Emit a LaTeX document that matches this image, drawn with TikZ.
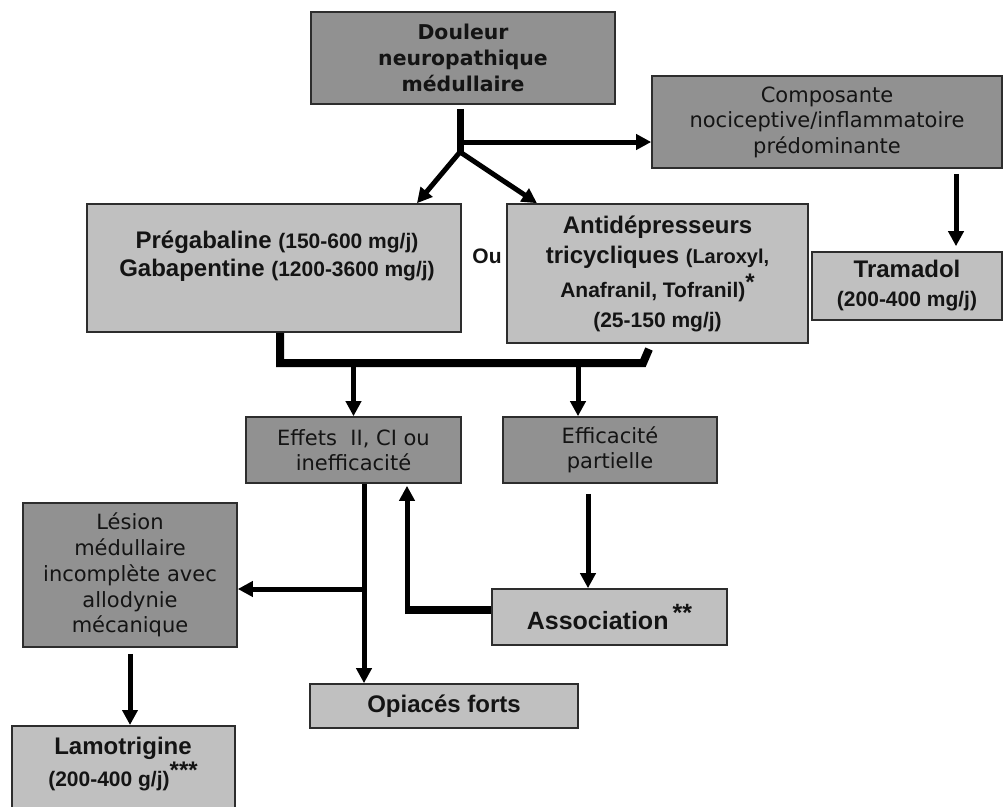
\documentclass[tikz,border=0pt]{standalone}
\usepackage{fontspec}
\setmainfont{Liberation Sans}
\newfontfamily\verd{DejaVu Sans}
\usetikzlibrary{arrows.meta,calc}
\definecolor{dgray}{RGB}{145,145,145}
\definecolor{lgray}{RGB}{192,192,192}
\definecolor{edgecol}{RGB}{45,45,45}
\definecolor{ink}{RGB}{20,20,20}
\begin{document}
\begin{tikzpicture}[x=1pt,y=-1pt,
  box/.style={draw=edgecol,line width=1.6pt,inner sep=0pt,align=center,text=ink},
  dbox/.style={box,fill=dgray},
  lbox/.style={box,fill=lgray},
  txt/.style={inner sep=0pt,align=center,text=ink},
  vfont/.style={font={\verd\fontsize{21}{25.5}\selectfont}},
  arr/.style={line width=5pt,-{Triangle[length=15pt,width=15pt]}},
  bar/.style={line width=8pt},
]
\path[use as bounding box] (0,0) rectangle (1003,806);
\clip (0,0) rectangle (1003,806);
\fill[white] (0,0) rectangle (1003,806);

% boxes
\node[dbox,minimum width=304pt,minimum height=92pt,font={\verd\bfseries\fontsize{20.4}{26}\selectfont}] (douleur) at (463,58) {Douleur\\neuropathique\\médullaire};
\node[dbox,vfont,minimum width=350pt,minimum height=92pt] (compo) at (827,122) {Composante\\nociceptive/inflammatoire\\prédominante};
\node[lbox,minimum width=374pt,minimum height=128pt] (preg) at (274,268) {};
\node[txt,font={\bfseries\fontsize{24}{28}\selectfont}] (pregtxt) at (277,256) {Prégabaline {\fontsize{21}{28}\selectfont(150-600 mg/j)}\\Gabapentine {\fontsize{21}{28}\selectfont(1200-3600 mg/j)}};
\node[txt,font={\bfseries\fontsize{21}{25}\selectfont}] (ou) at (487,256) {Ou};
\node[lbox,minimum width=301pt,minimum height=139pt,font={\bfseries\fontsize{24}{30}\selectfont}] (anti) at (657.5,273.5) {Antidépresseurs\\tricycliques {\fontsize{20}{30}\selectfont(Laroxyl,}\\[4pt]{\fontsize{21}{30}\selectfont Anafranil, Tofranil)\raisebox{7pt}{\fontsize{24}{24}\selectfont *}}\\{\fontsize{21}{30}\selectfont(25-150 mg/j)}};
\node[lbox,minimum width=190pt,minimum height=68pt,font={\bfseries\fontsize{24}{29}\selectfont}] (tram) at (907,286) {Tramadol\\{\fontsize{21}{29}\selectfont(200-400 mg/j)}};
\node[dbox,vfont,minimum width=215pt,minimum height=66pt] (effets) at (353.5,450) {Effets\ \ II, CI ou\\inefficacité};
\node[dbox,vfont,minimum width=214pt,minimum height=66pt] (effic) at (610,450) {Efficacité\\partielle};
\node[dbox,font={\verd\fontsize{21}{25.8}\selectfont},minimum width=214pt,minimum height=144pt] (lesion) at (130,575) {Lésion\\médullaire\\incomplète avec\\allodynie\\mécanique};
\node[lbox,minimum width=235pt,minimum height=56pt,font={\bfseries\fontsize{25}{30}\selectfont}] (assoc) at (609.5,617) {Association\,\raisebox{8pt}{**}};
\node[lbox,minimum width=268pt,minimum height=44pt,font={\bfseries\fontsize{24}{28}\selectfont}] (opi) at (444,706) {Opiacés forts};
\node[lbox,anchor=north,minimum width=223pt,minimum height=100pt] (lamo) at (123.5,725) {};
\node[txt,font={\bfseries\fontsize{24}{32}\selectfont}] (lamotxt) at (123,764) {Lamotrigine\\{\fontsize{21}{32}\selectfont(200-400 g/j)\raisebox{8pt}{\fontsize{24}{24}\selectfont ***}}};

% connectors from top
\coordinate (j1) at (460,142);
\coordinate (j2) at (460,152);
\coordinate (d0) at ([yshift=-4pt]douleur.south);
\draw[line width=7pt] (d0 -| j1) -- (j2);
\draw[arr] (j1) -- (j1 -| compo.west);
\draw[arr] (j2) -- ([xshift=143pt]preg.north);
\draw[arr] (j2) -- ([xshift=-120.5pt]anti.north);

% compo -> tramadol
\draw[arr] ([xshift=129pt,yshift=-5pt]compo.south) -- ([xshift=49pt,yshift=5pt]tram.north);

% combining bar
\coordinate (b2) at (643,363);
\coordinate (b3) at (649,349);
\draw[bar] ([xshift=6pt]preg.south) |- (b2) -- (b3);
\draw[arr] (effets.north |- b2) -- (effets.north);
\draw[arr] ([xshift=-32pt]effic.north |- b2) -- ([xshift=-32pt]effic.north);

% effets -> opiaces and lesion
\coordinate (e0) at ([xshift=10.5pt]effets.south);
\coordinate (br) at (364,589);
\draw[arr] (e0) -- (e0 |- opi.north);
\draw[arr] (br) -- (br -| lesion.east);

% efficacite -> association
\draw[arr] ([xshift=-22pt,yshift=-10pt]effic.south) -- ([xshift=-22pt]effic.south |- assoc.north);

% association -> effets
\coordinate (c1) at (407,610);
\draw[line width=8pt] ([yshift=7pt]assoc.west) -- ([xshift=-2.5pt]c1);
\draw[arr] ([yshift=-4pt]c1) -- ([xshift=53.5pt,yshift=-2pt]effets.south);

% lesion -> lamotrigine
\draw[arr] ([yshift=-6pt]lesion.south) -- (lesion.south |- lamo.north);
\end{tikzpicture}
\end{document}
